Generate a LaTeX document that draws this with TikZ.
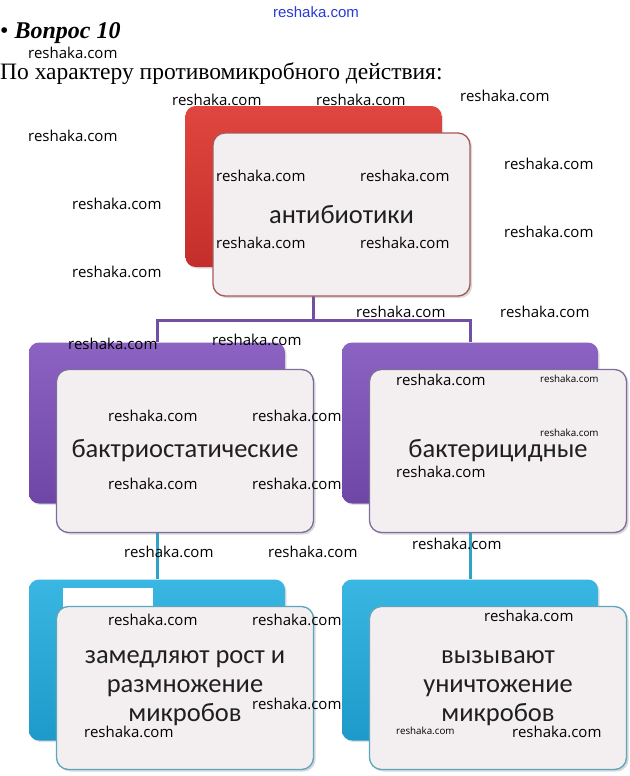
\documentclass[tikz,border=0pt]{standalone}
\usepackage{fontspec}
\setmainfont{Liberation Serif}
\newfontfamily\boxfont{Carlito}
\newfontfamily\wmfont{Open Sans}
\newfontfamily\bluefont{Liberation Sans}
\usetikzlibrary{shadows}
\definecolor{redT}{HTML}{E0463F}
\definecolor{redB}{HTML}{C42E2A}
\definecolor{purT}{HTML}{8C62C2}
\definecolor{purB}{HTML}{6E47A6}
\definecolor{cyaT}{HTML}{3AB6E2}
\definecolor{cyaB}{HTML}{1E9ACA}
\definecolor{frontfill}{HTML}{F3EFF1}
\definecolor{rededge}{HTML}{A65A5A}
\definecolor{puredge}{HTML}{7E6E9C}
\definecolor{cyaedge}{HTML}{5EA6BC}
\definecolor{pline}{HTML}{7050A4}
\definecolor{cline}{HTML}{30A2C6}
\definecolor{wmblue}{HTML}{2A3AD8}
\tikzset{
  backbox/.style={rectangle, rounded corners=10pt, minimum width=256pt, minimum height=161pt, inner sep=0pt, draw=none,
    drop shadow={shadow xshift=1.5pt, shadow yshift=-1.5pt, opacity=0.25}},
  redback/.style={backbox, top color=redT, bottom color=redB},
  purback/.style={backbox, top color=purT, bottom color=purB},
  cyaback/.style={backbox, top color=cyaT, bottom color=cyaB},
  frontbox/.style={rectangle, rounded corners=12pt, minimum width=257pt, minimum height=163pt, inner sep=2pt,
    fill=frontfill, line width=1.3pt, align=center, text=black!88,
    font=\boxfont\fontsize{26.5}{29}\selectfont,
    drop shadow={shadow xshift=2pt, shadow yshift=-2pt, opacity=0.3}},
  pconn/.style={draw=pline, line width=3pt},
  cconn/.style={draw=cline, line width=3pt},
  wm/.style={anchor=west, inner sep=0pt, font=\wmfont\fontsize{15}{16}\selectfont, text=black},
  wmsmall/.style={anchor=west, inner sep=0pt, font=\wmfont\fontsize{9.8}{11}\selectfont, text=black},
}
\begin{document}
\begin{tikzpicture}[x=1pt,y=-1pt]
\useasboundingbox (0,0) rectangle (629,776);
\fill[white] (0,0) rectangle (629,776);

% header
\node[anchor=center, inner sep=0pt, font=\bluefont\fontsize{15}{17}\selectfont, text=wmblue] (topwm) at (316,12) {reshaka.com};
\node[anchor=base west, inner sep=0pt, font=\fontsize{24}{26}\selectfont] (q) at (0,38) {\textbullet\ \textbf{\textit{Вопрос 10}}};
\node[anchor=base west, inner sep=0pt, font=\fontsize{23.5}{27}\selectfont] (sub) at (0,80) {По характеру противомикробного действия:};

% back boxes
\node[redback] (tb) at (313.5,186.5) {};
\node[purback] (lb) at (157,423) {};
\node[purback] (rb) at (470,423) {};
\node[cyaback] (lc) at (157,660) {};
\node[cyaback] (rc) at (470,660) {};

% connectors
\coordinate (bus) at (0,320);
\draw[pconn] (tb.south) -- (tb.south |- bus);
\draw[pconn] (lb.north) -- (lb.north |- bus) -- (rb.north |- bus) -- (rb.north);
\draw[cconn] (lb.south) -- (lc.north);
\draw[cconn] (rb.south) -- (rc.north);

% white patch
\fill[white] (63,588) rectangle (153,607);

% front boxes
\node[frontbox, draw=rededge] (tf) at (341.5,214.5) {антибиотики};
\node[frontbox, draw=puredge] (lf) at (185,451) {бактриостатические};
\node[frontbox, draw=puredge] (rf) at (498,451) {бактерицидные};
\node[frontbox, draw=cyaedge] (lcf) at (185,688) {замедляют рост и\\размножение\\микробов};
\node[frontbox, draw=cyaedge] (rcf) at (498,688) {вызывают\\уничтожение\\микробов};

% watermarks
\foreach \px/\py [count=\i] in {28/53,172/100,316/100,460/96,28/136,504/164,72/204,504/232,72/272,
  216/176,360/176,216/243,360/243,356/312,500/312,68/344,212/340,
  108/416,252/416,108/484,252/484,396/380,396/472,
  124/552,268/552,412/544,108/620,252/620,484/616,252/704,84/732,512/732}
  \node[wm] (wm\i) at (\px,\py) {reshaka.com};
\foreach \px/\py [count=\i] in {540/379,540/433,396/731}
  \node[wmsmall] (ws\i) at (\px,\py) {reshaka.com};
\end{tikzpicture}
\end{document}
